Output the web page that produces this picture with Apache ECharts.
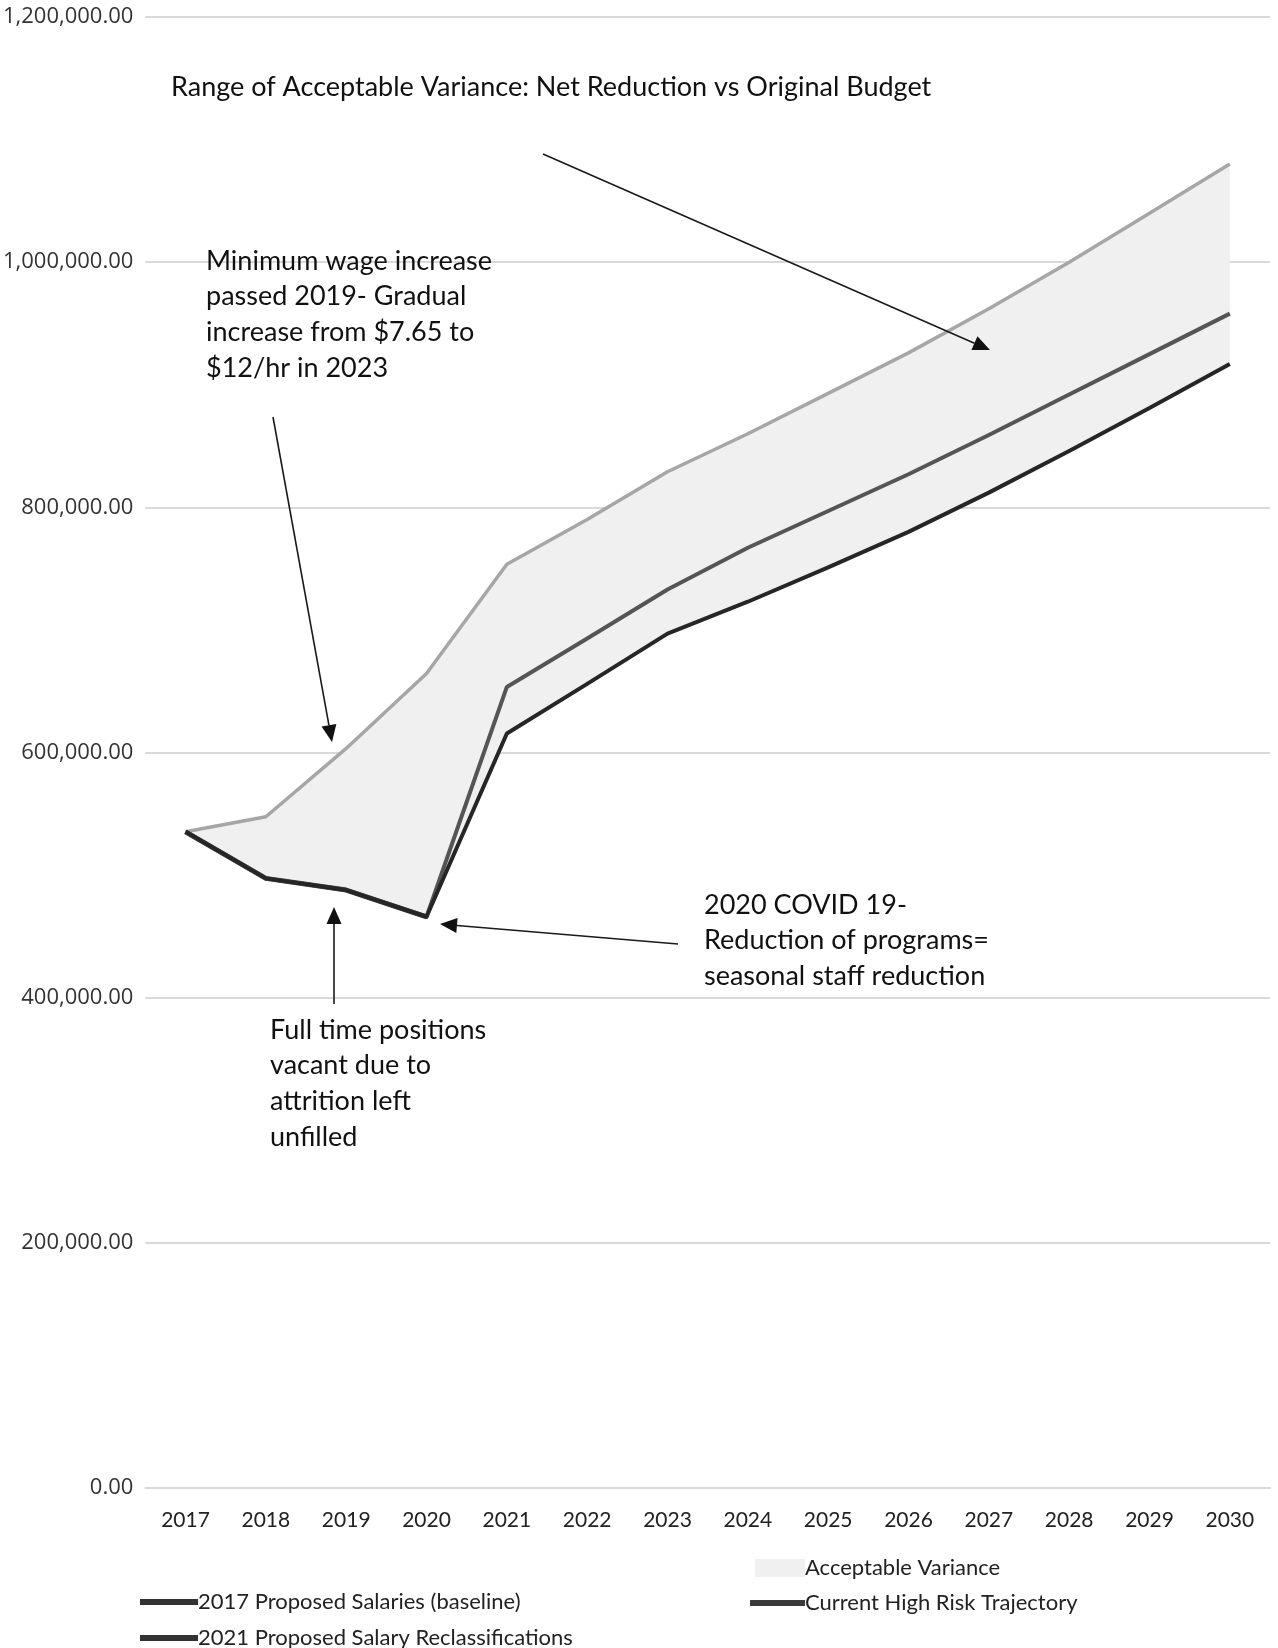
<!DOCTYPE html>
<html>
<head>
<meta charset="utf-8">
<script src="https://cdn.jsdelivr.net/npm/echarts@6/dist/echarts.min.js"></script>
<style>
html,body{margin:0;padding:0;background:#fff;}
#chart{width:1278px;height:1648px;}
</style>
</head>
<body>
<div id="chart"></div>
<script>
// ---- data ----
var years = ['2017','2018','2019','2020','2021','2022','2023','2024','2025','2026','2027','2028','2029','2030'];
var varianceUpper = [535300, 547600, 603300, 664500, 753500, 790000, 829000, 860000, 893000, 926000, 962000, 1000000, 1040000, 1080000];
var highRiskTrajectory = [535300, 497300, 487800, 466000, 653500, 693000, 733000, 767000, 797000, 827000, 859000, 892000, 925000, 958000];
var reclassifications = [535300, 497300, 487800, 466000, 615500, 656000, 697000, 723000, 751000, 780000, 812000, 846000, 881000, 917000];
var baseline2017 = [535300, 497300, 487800, 466000, null, null, null, null, null, null, null, null, null, null];

var notes = [
  {text: 'Range of Acceptable Variance: Net Reduction vs Original Budget', left: 171, cy: 87},
  {text: 'Minimum wage increase\npassed 2019- Gradual\nincrease from $7.65 to\n$12/hr in 2023', left: 206, cy: 261},
  {text: '2020 COVID 19-\nReduction of programs=\nseasonal staff reduction', left: 704, cy: 905},
  {text: 'Full time positions\nvacant due to\nattrition left\nunfilled', left: 270, cy: 1030}
];
var arrows = [
  [543, 154, 990, 350],
  [273, 417, 332, 742],
  [334, 1004, 334, 907],
  [678, 944, 440, 924]
];

var band = varianceUpper.map(function (v, i) { return v - reclassifications[i]; });

var chart = echarts.init(document.getElementById('chart'), null, {renderer: 'canvas'});

var LH = 35.7;
var FONT = '27px Lato';
var graphics = [];
notes.forEach(function (n) {
  graphics.push({
    type: 'text', left: n.left, top: n.cy - LH / 2, z: 100,
    style: {text: n.text, font: FONT, fill: '#111', lineHeight: LH, verticalAlign: 'top'}
  });
});
arrows.forEach(function (a) {
  var dx = a[2] - a[0], dy = a[3] - a[1];
  var len = Math.sqrt(dx * dx + dy * dy);
  var ux = dx / len, uy = dy / len;
  var hl = 17, hw = 7.5;
  var bx = a[2] - ux * hl, by = a[3] - uy * hl;
  graphics.push({
    type: 'line', z: 100,
    shape: {x1: a[0], y1: a[1], x2: bx, y2: by},
    style: {stroke: '#1a1a1a', lineWidth: 1.6}
  });
  graphics.push({
    type: 'polygon', z: 100,
    shape: {points: [[a[2], a[3]], [bx - uy * hw, by + ux * hw], [bx + uy * hw, by - ux * hw]]},
    style: {fill: '#111'}
  });
});

function legendItem(name, left, top, w, h, color) {
  return {
    data: [{name: name, icon: 'rect', itemStyle: {color: color}}],
    left: left, top: top, padding: 0, itemWidth: w, itemHeight: h, itemGap: 0,
    selectedMode: false,
    textStyle: {fontFamily: 'Lato', fontSize: 22, color: '#222', padding: [0, 0, 0, -5]}
  };
}

var option = {
  backgroundColor: '#fff',
  animation: false,
  grid: {left: 145, right: 8, top: 17, bottom: 160, containLabel: false},
  legend: [
    legendItem('Acceptable Variance', 755, 1557, 50, 18, '#f0f0f0'),
    legendItem('Current High Risk Trajectory', 750, 1592, 55, 6, '#3a3a3a'),
    legendItem('2017 Proposed Salaries (baseline)', 140, 1591, 58, 6, '#333'),
    legendItem('2021 Proposed Salary Reclassifications', 140, 1627, 58, 6, '#333')
  ],
  xAxis: {
    type: 'category', data: years, boundaryGap: true,
    axisLine: {show: true, lineStyle: {color: '#d9d9d9', width: 2}},
    axisTick: {show: false},
    axisLabel: {fontFamily: 'Lato', fontSize: 21, color: '#222', margin: 22}
  },
  yAxis: {
    type: 'value', min: 0, max: 1200000, interval: 200000,
    axisLine: {show: false}, axisTick: {show: false},
    splitLine: {lineStyle: {color: '#d9d9d9', width: 2}},
    axisLabel: {
      fontFamily: 'Open Sans', fontSize: 22, color: '#333', margin: 12,
      formatter: function (v) { return v.toLocaleString('en-US', {minimumFractionDigits: 2, maximumFractionDigits: 2}); }
    }
  },
  series: [
    {name: 'bandBase', type: 'line', stack: 'v', data: reclassifications, symbol: 'none', silent: true,
     lineStyle: {opacity: 0}, z: 1},
    {name: 'Acceptable Variance', type: 'line', stack: 'v', data: band, symbol: 'none',
     areaStyle: {color: '#f0f0f0', opacity: 1},
     lineStyle: {color: '#a6a6a6', width: 3.5, join: 'round'}, itemStyle: {color: '#f0f0f0'}, z: 2},
    {name: '2017 Proposed Salaries (baseline)', type: 'line', data: baseline2017, symbol: 'none',
     lineStyle: {color: '#404040', width: 5, join: 'round'}, itemStyle: {color: '#333'}, z: 3},
    {name: 'Current High Risk Trajectory', type: 'line', data: highRiskTrajectory, symbol: 'none',
     lineStyle: {color: '#555555', width: 4, join: 'round'}, itemStyle: {color: '#3a3a3a'}, z: 4},
    {name: '2021 Proposed Salary Reclassifications', type: 'line', data: reclassifications, symbol: 'none',
     lineStyle: {color: '#262626', width: 4, join: 'round'}, itemStyle: {color: '#333'}, z: 5}
  ],
  graphic: graphics
};
chart.setOption(option);
</script>
</body>
</html>
